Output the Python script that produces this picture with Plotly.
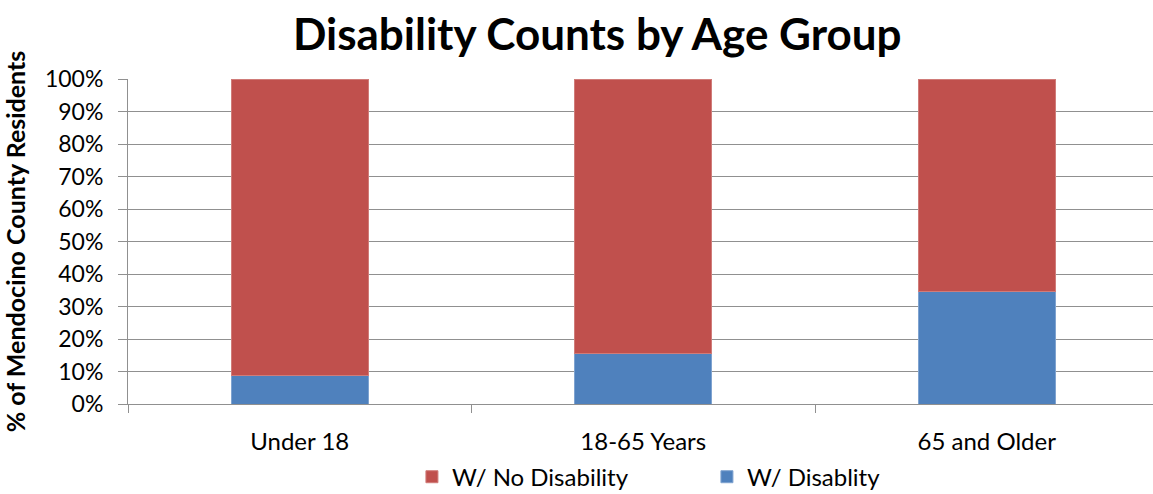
import plotly.graph_objects as go

categories = ["Under 18", "18-65 Years", "65 and Older"]
with_disability = [0.087, 0.155, 0.347]
no_disability = [1 - v for v in with_disability]
y_ticks = [i / 10 for i in range(11)]
y_tick_labels = [f"{i*10}%" for i in range(11)]

FONT = "Lato"
fig = go.Figure()
fig.add_trace(go.Bar(x=categories, y=with_disability, name="W/ Disablity",
                     marker=dict(color="#4F81BD", line=dict(color="#7FA3D0", width=1))))
fig.add_trace(go.Bar(x=categories, y=no_disability, name="W/ No Disability",
                     marker=dict(color="#C0504D", line=dict(color="#D07C79", width=1))))

fig.update_layout(
    width=1153, height=494,
    barmode="stack", bargap=0.6,
    paper_bgcolor="white", plot_bgcolor="white",
    margin=dict(l=128, r=0, t=79, b=90, autoexpand=False),
    font=dict(family=FONT, color="black"),
    title=dict(text="<b>Disability Counts by Age Group</b>", x=0.518, xanchor="center",
               y=0.93, yanchor="middle", font=dict(size=44, family=FONT)),
    showlegend=True,
    legend=dict(orientation="h", traceorder="reversed", x=0.277, xanchor="left",
                y=-0.225, yanchor="middle", font=dict(size=24, family=FONT),
                entrywidth=250, entrywidthmode="pixels"),
)
fig.update_xaxes(range=[-0.5, 2.484], showline=True, linecolor="#909090", linewidth=1,
                 ticks="outside", tickson="boundaries", ticklen=8, tickcolor="#909090",
                 tickfont=dict(size=24, family=FONT), showgrid=False,
                 ticklabelstandoff=16)
fig.update_yaxes(range=[0, 1], tickvals=y_ticks, ticktext=y_tick_labels,
                 showline=True, linecolor="#909090", linewidth=1,
                 ticks="outside", ticklen=9, tickcolor="#909090",
                 showgrid=True, gridcolor="#909090", gridwidth=1,
                 tickfont=dict(size=23, family=FONT), ticklabelstandoff=10,
                 title=dict(text="<b>% of Mendocino County Residents</b>",
                            font=dict(size=25, family=FONT), standoff=14))
fig.write_html("out.html", config={"displayModeBar": False},
               post_script="document.body.style.margin='0';document.body.style.overflow='hidden';")
